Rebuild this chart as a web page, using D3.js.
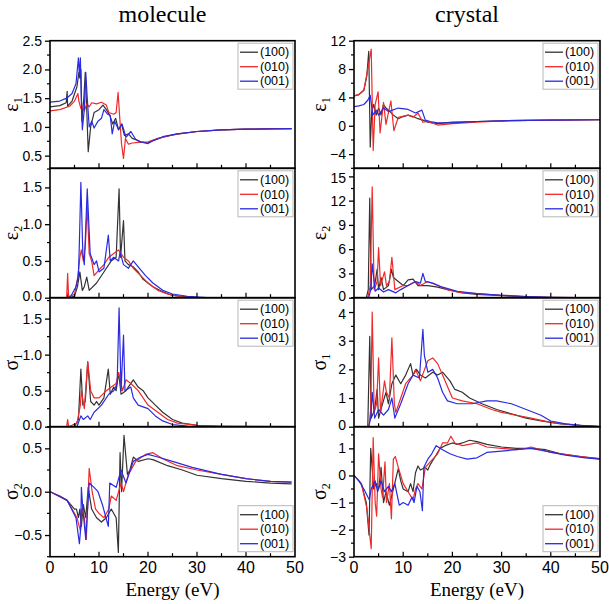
<!DOCTYPE html>
<html><head><meta charset="utf-8">
<script src="https://cdn.jsdelivr.net/npm/d3@7/dist/d3.min.js"></script>
<style>body{margin:0;background:#fff}svg{display:block}</style>
</head><body>
<svg id="c" width="609" height="604"></svg>
<script>
// ---------------- DATA ----------------
const seriesNames = ["(100)", "(010)", "(001)"];
const columnTitles = ["molecule", "crystal"];
const xTickValues = [0, 10, 20, 30, 40, 50];
const xTitle = "Energy (eV)";

// molecule eps1
const molEps1_100 = [[0,1.35],[2,1.37],[3.3,1.42],[3.5,1.62],[3.6,1.36],[4.5,1.45],[5.5,1.7],[5.9,1.95],[6.1,1.85],[6.3,2.0],[6.5,1.1],[6.9,1.5],[7.2,1.95],[7.5,1.3],[7.8,0.57],[8.3,1.0],[9,1.25],[10,1.3],[10.8,1.38],[11.5,1.3],[12.2,1.2],[12.8,1.05],[13.4,1.15],[14,0.95],[14.6,1.05],[15.2,0.85],[16,0.88],[16.8,0.8],[17.5,0.78],[18.5,0.74],[20,0.72],[21,0.76],[23,0.82],[26,0.88],[30,0.92],[35,0.95],[40,0.96],[45,0.97],[49.3,0.97]];
const molEps1_010 = [[0,1.28],[2,1.3],[4,1.36],[5,1.45],[5.7,1.58],[5.9,1.45],[6.3,1.32],[6.6,1.35],[7,1.28],[7.5,1.4],[8,1.35],[8.5,1.42],[9.5,1.4],[10.5,1.43],[11.5,1.38],[12,1.25],[13,1.22],[13.5,1.25],[13.9,1.6],[14.2,1.2],[14.6,0.7],[15,0.45],[15.4,0.8],[16,0.7],[16.8,0.72],[18,0.73],[20,0.74],[22,0.8],[25,0.86],[30,0.92],[35,0.95],[40,0.96],[49.3,0.97]];
const molEps1_001 = [[0,1.43],[2,1.45],[3.4,1.5],[4.5,1.58],[5.3,1.75],[5.8,2.2],[6.0,1.9],[6.2,2.2],[6.4,1.5],[6.6,0.95],[7.0,1.3],[7.3,1.95],[7.6,1.5],[8,1.0],[8.5,1.1],[9,0.98],[9.8,1.1],[10.5,1.15],[11,1.3],[11.8,1.22],[12.3,1.2],[12.7,0.88],[13.2,1.1],[14,0.95],[14.7,1.05],[15.5,0.82],[16.5,0.92],[17.5,0.78],[18.5,0.74],[20,0.71],[21,0.76],[23,0.83],[26,0.88],[30,0.92],[35,0.95],[40,0.96],[49.3,0.97]];

// molecule eps2
const molEps2_100 = [[0,0],[3.5,0],[3.7,0.07],[3.9,0],[5,0.02],[5.6,0.15],[6.1,0.35],[6.6,0.1],[7.0,0.15],[7.5,0.28],[8.0,0.1],[9.5,0.2],[11,0.35],[12.5,0.5],[13.5,0.55],[14.1,1.48],[14.4,0.55],[15.0,1.05],[15.3,0.5],[16,0.45],[17,0.42],[18,0.35],[19,0.25],[21,0.15],[23,0.08],[25,0.03],[30,0],[49.3,0]];
const molEps2_010 = [[0,0],[3.4,0],[3.6,0.33],[3.8,0],[5,0.05],[5.6,0.25],[6.1,0.55],[6.4,0.65],[6.8,0.5],[7.2,0.7],[7.6,1.25],[8.0,0.6],[8.5,0.5],[9,0.3],[10,0.38],[11,0.45],[12,0.55],[13,0.6],[14,0.65],[14.3,0.62],[15,0.55],[16,0.5],[17,0.4],[18.5,0.3],[20,0.2],[22,0.1],[24,0.05],[27,0.01],[30,0],[49.3,0]];
const molEps2_001 = [[0,0],[4,0],[4.5,0.05],[5.3,0.15],[5.8,0.3],[6.0,0.75],[6.3,1.57],[6.7,0.6],[7.0,0.45],[7.6,1.48],[8.2,0.6],[9,0.45],[9.5,0.5],[10,0.35],[11,0.4],[11.9,0.85],[12.3,0.5],[13,0.55],[14,0.5],[14.3,0.62],[15,0.45],[16,0.4],[17,0.5],[18,0.42],[19.5,0.3],[21,0.2],[23,0.1],[25,0.05],[28,0.02],[32,0],[49.3,0]];

// molecule sigma1
const molSig1_100 = [[0,0],[5,0],[5.8,0.1],[6.3,0.8],[6.7,0.3],[7.2,0.35],[7.7,0.9],[8.3,0.35],[9,0.3],[9.5,0.35],[10,0.3],[11,0.4],[11.9,0.8],[12.3,0.45],[13,0.55],[13.5,0.5],[14,0.75],[14.5,0.45],[15.5,0.5],[16.5,0.6],[17,0.65],[18,0.55],[19,0.5],[20,0.4],[21.5,0.3],[23,0.2],[25,0.1],[27,0.05],[30,0.02],[35,0],[49.3,0]];
const molSig1_010 = [[0,0],[3.4,0],[3.6,0.1],[3.8,0],[5.5,0.05],[6.2,0.3],[6.4,0.5],[7,0.25],[7.7,0.9],[8.3,0.5],[9,0.4],[10,0.4],[11.5,0.5],[12.5,0.55],[13.5,0.6],[14,0.75],[14.8,0.5],[15.5,0.65],[16.5,0.6],[18,0.5],[19,0.4],[20,0.3],[22,0.2],[24,0.1],[26,0.05],[30,0.02],[35,0.01],[49.3,0]];
const molSig1_001 = [[0,0],[5.5,0],[6.3,0.15],[6.8,0.1],[7.7,0.15],[8.2,0.1],[9,0.2],[10.5,0.3],[12,0.45],[13,0.5],[13.7,0.6],[14.1,1.65],[14.5,0.5],[15.0,1.27],[15.3,0.5],[16.5,0.55],[17,0.4],[18,0.3],[20,0.25],[21.5,0.15],[23,0.08],[25,0.03],[28,0.01],[32,0],[49.3,0]];

// molecule sigma2
const molSig2_100 = [[0,0],[2,-0.05],[3.5,-0.1],[5,-0.2],[5.4,-0.2],[5.8,-0.3],[6.1,-0.2],[6.4,-0.4],[6.8,-0.15],[7.3,-0.3],[7.8,0.05],[8.5,-0.2],[9.5,-0.3],[10.5,-0.35],[11.5,-0.3],[12.5,-0.2],[13.5,-0.3],[13.95,-0.7],[14.3,0.45],[14.6,0.0],[15.1,0.65],[15.8,0.2],[16.3,0.25],[17,0.4],[18,0.35],[20,0.38],[21,0.37],[24,0.3],[27,0.25],[30,0.19],[35,0.15],[40,0.12],[45,0.1],[49.3,0.09]];
const molSig2_010 = [[0,0],[3.5,-0.1],[5.5,-0.3],[6.2,-0.45],[6.5,-0.2],[7,-0.3],[7.4,-0.55],[8.0,0.27],[8.6,0.0],[9.3,-0.2],[10,-0.25],[11,-0.3],[12,-0.2],[12.5,-0.05],[13.5,-0.1],[14.5,0.1],[15,0.0],[16,0.2],[17.5,0.35],[19.5,0.43],[21,0.45],[23,0.38],[26,0.3],[30,0.25],[35,0.2],[40,0.15],[45,0.12],[49.3,0.11]];
const molSig2_001 = [[0,0],[3.5,-0.1],[5.3,-0.3],[6.0,-0.6],[6.3,-0.4],[6.4,0.05],[6.7,-0.2],[7.3,-0.55],[8.0,0.1],[9,0.05],[9.8,0.0],[10.7,-0.15],[11.9,-0.4],[12.2,0.1],[13.5,0.05],[14.5,0.25],[15.5,0.1],[17,0.35],[18.5,0.4],[20,0.43],[22,0.4],[25,0.35],[29,0.28],[35,0.2],[40,0.15],[45,0.12],[49.3,0.11]];

// crystal eps1
const cryEps1_100 = [[0,4.2],[1,4.4],[2,5],[2.6,7],[3.0,10.5],[3.3,-3],[3.6,2],[4,3],[4.5,1.5],[5,2.5],[5.5,1.5],[6,3],[6.5,2.5],[7,2.2],[8,1.5],[9,1.0],[10,1.3],[11,1.5],[12,1.3],[13,1.0],[14,0.8],[15,0.5],[17,0.3],[20,0.5],[25,0.6],[30,0.7],[40,0.8],[50,0.85]];
const cryEps1_010 = [[0,4.2],[1,4.4],[2,5],[2.8,8],[3.5,10.8],[3.9,-3.5],[4.3,3],[4.9,4.8],[5.3,-1],[6.0,3.3],[6.5,0.2],[7.5,3.5],[8.1,-0.7],[9,1.2],[11,1.5],[12,1.2],[13,1.8],[14,0.5],[15,0.6],[17,0.1],[20,0.3],[25,0.5],[30,0.7],[40,0.8],[50,0.85]];
const cryEps1_001 = [[0,2.7],[1,2.8],[2,3.0],[2.8,3.6],[3.3,4.3],[3.8,1.5],[4.5,2.2],[5,1.5],[6,2.5],[7,2.0],[9,2.5],[11,2.3],[12.5,1.8],[13.8,2.2],[14.5,0.8],[15.5,0.6],[17,0.4],[20,0.4],[25,0.6],[30,0.7],[40,0.8],[50,0.85]];

// crystal eps2
const cryEps2_100 = [[0,0],[2.5,0],[2.9,1],[3.2,12.3],[3.5,1],[4.2,1.5],[4.7,3.5],[5,1],[5.5,2.5],[6,1],[7,1.5],[7.6,3.5],[8,2.5],[9,2],[10,1.5],[11,2.2],[12,2.3],[13,1.5],[15,1.5],[17,1.3],[19,1.0],[22,0.6],[25,0.4],[30,0.25],[35,0.1],[40,0.02],[45,0],[50,0]];
const cryEps2_010 = [[0,0],[2.8,0],[3.3,1.5],[3.7,13.7],[4.1,1],[4.7,2],[5.0,6.2],[5.4,1.5],[6.2,3.2],[6.6,1.5],[7.2,2],[7.7,5],[8.3,1],[10,1.5],[11,1.5],[12.5,2],[13.5,1.5],[15,2],[17,1.5],[19,1.0],[21,0.7],[25,0.5],[30,0.3],[35,0.15],[40,0.05],[45,0],[50,0]];
const cryEps2_001 = [[0,0],[3,0],[3.4,1],[3.7,4.2],[4.3,0.8],[5,1.2],[6,0.7],[7,1.0],[8.5,0.6],[9.5,1.0],[11,1.5],[12.5,2],[13.5,1.8],[14.0,3],[14.5,2],[16,1.8],[18,1.3],[21,0.8],[25,0.5],[30,0.3],[35,0.15],[40,0.05],[45,0.01],[50,0]];

// crystal sigma1
const crySig1_100 = [[0,0],[2.8,0],[3.2,3.15],[3.5,0.3],[4.2,0.6],[4.7,1.3],[5,0.3],[5.8,0.8],[6.5,1.2],[7,0.8],[7.7,1.5],[8.5,1.8],[9.5,1.5],[10.5,1.8],[11.5,2.2],[12,1.8],[12.7,2],[13.5,1.8],[14.5,1.7],[16,1.9],[17,1.8],[18,1.9],[19.5,1.6],[20.5,1.3],[22,1.2],[23.5,1.0],[26,0.8],[29,0.6],[32,0.45],[35,0.3],[38,0.2],[42,0.1],[46,0.05],[50,0]];
const crySig1_010 = [[0,0],[3,0],[3.4,0.6],[3.7,4.0],[4.1,0.5],[4.6,0.8],[5.0,2.4],[5.4,0.5],[6.2,1.6],[6.6,1.2],[7.2,1.0],[7.7,3.1],[8.2,0.8],[8.5,0.5],[9.5,1.0],[10.5,1.5],[12,1.8],[12.5,2],[13.5,1.6],[15,2.3],[16,2.4],[17,2.2],[18.5,1.6],[20,1.0],[22,0.9],[25,0.8],[28,0.6],[30,0.5],[33,0.4],[36,0.3],[40,0.15],[45,0.05],[50,0]];
const crySig1_001 = [[0,0],[3,0],[3.4,0.3],[3.7,1.2],[4.2,0.3],[5,0.6],[6,0.4],[7,0.6],[7.7,1.0],[8.3,0.3],[9.5,0.8],[11,1.5],[12,1.8],[13.3,1.7],[14.0,3.4],[14.3,2.5],[15,1.9],[16,2.0],[17,1.7],[18,1.2],[19,0.9],[21,0.8],[24,0.8],[27,0.9],[29,0.9],[32,0.8],[35,0.6],[38,0.4],[40,0.2],[43,0.1],[46,0.05],[50,0]];

// crystal sigma2
const crySig2_100 = [[0,0],[1.5,-0.3],[2.5,-1],[3.05,-2.2],[3.4,1.0],[4,-0.5],[4.5,-0.3],[5,-0.5],[5.5,0.3],[6,-1.0],[6.5,-0.6],[7.2,-1.1],[8,-0.5],[9,0.25],[9.5,-0.2],[10,-0.5],[11,-0.6],[11.5,-0.3],[12,-0.6],[12.5,0.1],[13,0.35],[13.5,0.2],[14.5,0.3],[15,0.2],[15.5,0.4],[16.5,0.7],[17.5,1.0],[18.5,1.1],[20,1.2],[21,1.15],[22,1.2],[23.5,1.3],[25,1.25],[27,1.15],[30,1.05],[33,1.0],[36,1.0],[39,0.95],[42,0.8],[46,0.7],[50,0.62]];
const crySig2_010 = [[0,0],[1.5,-0.3],[2.6,-1.2],[3.5,-2.7],[3.9,1.4],[4.3,-1],[4.6,-1.5],[5.0,0.8],[5.5,-0.5],[5.8,-0.8],[6.3,0.5],[6.6,-1.0],[7.2,-0.3],[7.6,-1.6],[8.0,0.6],[8.4,0.7],[9,0.3],[10,-0.3],[11,-0.6],[12,-0.9],[12.5,-0.5],[13,-0.3],[13.8,-0.5],[14.5,0.3],[15.5,0.5],[17,0.8],[18,1.2],[19,1.2],[19.7,1.45],[20.5,1.2],[22,1.1],[25,1.2],[27,1.05],[30,1.0],[33,0.95],[35,1.0],[36,1.05],[40,0.85],[45,0.72],[50,0.6]];
const crySig2_001 = [[0,0],[1,-0.2],[2,-0.5],[3.1,-0.9],[3.5,-0.5],[4.3,-0.2],[4.8,-0.6],[5.5,-0.2],[6.2,-0.6],[7,-0.4],[7.6,-0.6],[8.3,-0.3],[9.2,-1.1],[10,-1.0],[11,-1.1],[11.8,-0.8],[12.2,-1.0],[12.8,-0.4],[13.4,-0.6],[13.9,-1.3],[14.2,0.3],[15,0.6],[15.8,0.8],[16.7,1.1],[18,0.95],[19.5,0.8],[21,0.7],[23,0.6],[25,0.65],[27,0.85],[30,0.9],[33,0.95],[36,1.0],[39,0.9],[43,0.75],[47,0.65],[50,0.6]];

const yTicksMol = [[0.5,1.0,1.5,2.0,2.5],[0.0,0.5,1.0,1.5],[0.0,0.5,1.0,1.5],[-0.5,0.0,0.5]];
const yTicksCry = [[-4,0,4,8,12],[0,3,6,9,12,15],[0,1,2,3,4],[-3,-2,-1,0,1]];
const yLabels = [["ε","1"],["ε","2"],["σ","1"],["σ","2"]];

// ---------------- LAYOUT ----------------
const colors = ["#333333", "#ee2a2a", "#2a2ae0"];
const cols = [
  {x0: 50, x1: 295, labelX: 18, tickFmt: d3.format(".1f"),
   domains: [[0.28,2.5],[0,1.76],[0,1.79],[-0.75,0.75]], ticks: yTicksMol,
   series: [[molEps1_100,molEps1_010,molEps1_001],[molEps2_100,molEps2_010,molEps2_001],[molSig1_100,molSig1_010,molSig1_001],[molSig2_100,molSig2_010,molSig2_001]]},
  {x0: 354, x1: 600, labelX: 326, tickFmt: d3.format("d"),
   domains: [[-6,12],[0,16],[0,4.5],[-3,1.8]], ticks: yTicksCry,
   series: [[cryEps1_100,cryEps1_010,cryEps1_001],[cryEps2_100,cryEps2_010,cryEps2_001],[crySig1_100,crySig1_010,crySig1_001],[crySig2_100,crySig2_010,crySig2_001]]}
];
const rowTops = [40.7, 168.3, 297.7, 426.7, 556.7];

const svg = d3.select("#c");
const defs = svg.append("defs");

cols.forEach((col, ci) => {
  const x = d3.scaleLinear().domain([0, 50]).range([col.x0, col.x1]);
  // column title
  svg.append("text").attr("x", (col.x0 + col.x1) / 2 - 10).attr("y", 22)
    .attr("text-anchor", "middle").attr("font-family", "Liberation Serif, Times New Roman, serif")
    .attr("font-size", 24).text(columnTitles[ci]);

  for (let r = 0; r < 4; r++) {
    const top = rowTops[r], bot = rowTops[r + 1];
    const y = d3.scaleLinear().domain(col.domains[r]).range([bot, top]);
    const g = svg.append("g");
    const cid = `clip${ci}${r}`;
    defs.append("clipPath").attr("id", cid).append("rect")
      .attr("x", col.x0).attr("y", top).attr("width", col.x1 - col.x0).attr("height", bot - top);

    // lines
    const line = d3.line().x(d => x(d[0])).y(d => y(d[1]));
    const lg = g.append("g").attr("clip-path", `url(#${cid})`);
    col.series[r].forEach((s, si) => {
      lg.append("path").datum(s).attr("d", line).attr("fill", "none")
        .attr("stroke", colors[si]).attr("stroke-width", 1.2).attr("stroke-linejoin", "round");
    });

    // y axis ticks (outward) with minor ticks
    const yt = col.ticks[r];
    const step = yt[1] - yt[0];
    const [d0, d1] = col.domains[r];
    const minor = d3.range(Math.ceil(d0 / (step / 2)) * (step / 2), d1 + 1e-9, step / 2)
      .filter(v => !yt.some(t => Math.abs(t - v) < 1e-9));
    const yAxis = d3.axisLeft(y).tickValues(yt).tickFormat(col.tickFmt).tickSize(5).tickPadding(3);
    const ya = g.append("g").attr("transform", `translate(${col.x0},0)`).call(yAxis);
    ya.select(".domain").remove();
    ya.selectAll("line").attr("stroke", "#000").attr("stroke-width", 1.3);
    ya.selectAll("text").attr("font-family", "Liberation Sans, Arial, sans-serif").attr("font-size", 14).attr("fill", "#000")
      .attr("y", d => {
        const py = y(d);
        if (r < 3 && bot - py < 1) return -2;          // bottom label: nudge up
        if (py - top > 1 && py - top < 16) return 2;   // label near top: nudge down
        return 0;
      });
    g.selectAll(null).data(minor).enter().append("line")
      .attr("x1", col.x0 - 3).attr("x2", col.x0).attr("y1", d => y(d)).attr("y2", d => y(d))
      .attr("stroke", "#000").attr("stroke-width", 1.2);

    // x ticks inward at bottom
    const xt = d3.range(5, 50, 5);
    g.selectAll(null).data(xt).enter().append("line")
      .attr("x1", d => x(d)).attr("x2", d => x(d))
      .attr("y1", bot).attr("y2", d => bot - (d % 10 === 0 ? 5 : 3.5))
      .attr("stroke", "#000").attr("stroke-width", 1.2);

    // frame
    g.append("rect").attr("x", col.x0).attr("y", top).attr("width", col.x1 - col.x0).attr("height", bot - top)
      .attr("fill", "none").attr("stroke", "#000").attr("stroke-width", 1.6);

    // y label
    const lab = svg.append("text")
      .attr("transform", `translate(${col.labelX},${(top + bot) / 2}) rotate(-90)`)
      .attr("text-anchor", "middle").attr("font-family", "Liberation Serif, Times New Roman, serif")
      .attr("font-size", 20);
    lab.append("tspan").text(yLabels[r][0]);
    lab.append("tspan").attr("font-size", 12).attr("dy", 4).text(yLabels[r][1]);

    // legend
    const lw = 55, lh = 46;
    const lx = col.x1 - 57;
    const ly = r === 3 ? bot - 51 : top + 2.5;
    const leg = svg.append("g").attr("transform", `translate(${lx},${ly})`);
    leg.append("rect").attr("width", lw).attr("height", lh).attr("fill", "#fff")
      .attr("stroke", "#b8b8b8").attr("stroke-width", 1);
    seriesNames.forEach((nm, si) => {
      const yy = 9 + si * 14.5;
      leg.append("line").attr("x1", 2).attr("x2", 20).attr("y1", yy).attr("y2", yy)
        .attr("stroke", colors[si]).attr("stroke-width", 1.3);
      leg.append("text").attr("x", 22).attr("y", yy + 4.3)
        .attr("font-family", "Liberation Sans, Arial, sans-serif").attr("font-size", 12.5).text(nm);
    });

    // x tick labels on bottom row
    if (r === 3) {
      svg.append("g").selectAll("text").data(xTickValues).enter().append("text")
        .attr("x", d => x(d)).attr("y", bot + 16).attr("text-anchor", "middle")
        .attr("font-family", "Liberation Sans, Arial, sans-serif").attr("font-size", 16).text(d => d);
      svg.append("text").attr("x", (col.x0 + col.x1) / 2).attr("y", 596).attr("text-anchor", "middle")
        .attr("font-family", "Liberation Serif, Times New Roman, serif").attr("font-size", 19).text(xTitle);
    }
  }
});
</script>
</body></html>
